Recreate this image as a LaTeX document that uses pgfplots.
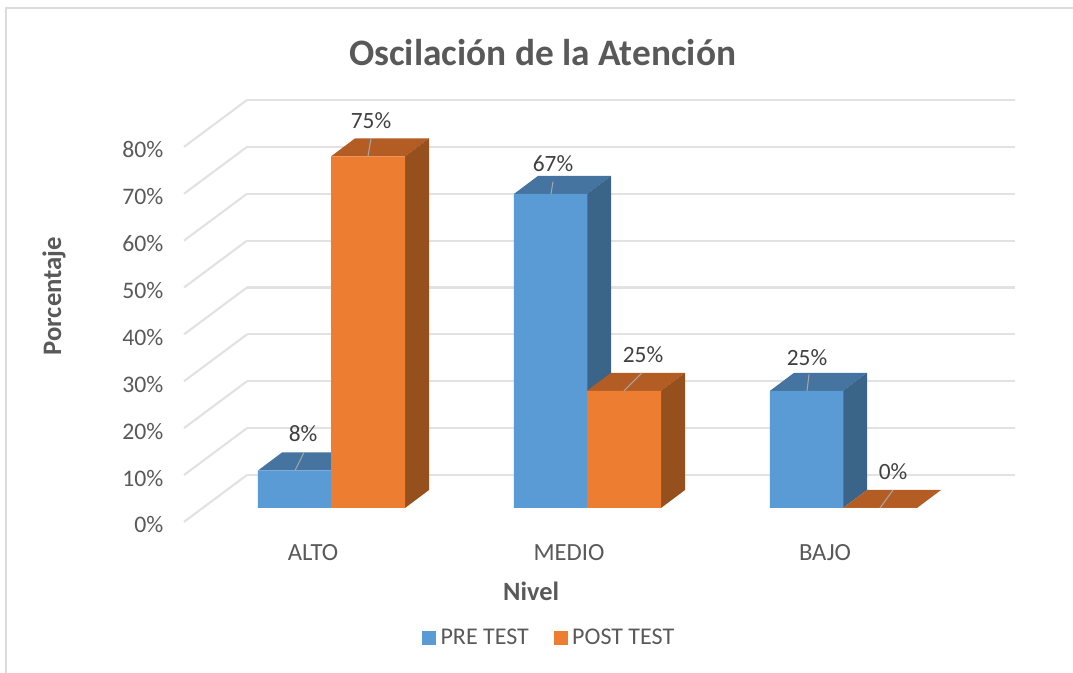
\documentclass[border=0pt]{standalone}
\usepackage{fontspec}
\setmainfont{Carlito}
\usepackage{pgfplots}
\pgfplotsset{compat=1.18}
\pgfplotsset{/pgf/number format/assume math mode=true}
\definecolor{txt}{HTML}{595959}
\definecolor{lab}{HTML}{404040}
\definecolor{gridc}{HTML}{E2E2E2}
\definecolor{frame}{HTML}{DCDCDC}
\definecolor{pre}{HTML}{5B9BD5}
\definecolor{pretop}{HTML}{44749F}
\definecolor{preside}{HTML}{3A6488}
\definecolor{post}{HTML}{ED7D31}
\definecolor{posttop}{HTML}{B35D24}
\definecolor{postside}{HTML}{96501E}
\begin{document}
\begin{tikzpicture}
  % canvas is 1073x673 px, 1 px = 0.75 pt
  \path[use as bounding box] (0pt,0pt) rectangle (804.75pt,504.75pt);
  \draw[frame, line width=1.5pt] (4.5pt,0pt) -- (4.5pt,498.75pt) -- (804.75pt,498.75pt);

  % back wall: gridlines and value labels
  \begin{axis}[
      at={(185.25pt,148.5pt)}, anchor=south west,
      scale only axis, width=576pt, height=281.25pt,
      xmin=247, xmax=1015, ymin=0, ymax=80,
      clip=false,
      axis line style={draw=none},
      ytick={0,10,...,80}, xtick=\empty,
      yticklabel={\pgfmathprintnumber{\tick}\%},
      yticklabel style={anchor=east, xshift=-59.25pt, yshift=-37.5pt, font=\fontsize{17.8}{20}\selectfont, text=txt},
      major tick length=0pt,
      ymajorgrids, grid style={gridc, line width=1.6pt},
      ylabel={Porcentaje},
      ylabel style={at={(rel axis cs:-0.2513,0.477)}, anchor=center, font=\bfseries\fontsize{20}{22}\selectfont, text=txt},
    ]
    % floor lines running forward from the wall
    \addplot[gridc, line width=1.6pt] coordinates {(184,-10) (247,0)};
    \addplot[gridc, line width=1.6pt] coordinates {(184,0) (247,10)};
    \addplot[gridc, line width=1.6pt] coordinates {(184,10) (247,20)};
    \addplot[gridc, line width=1.6pt] coordinates {(184,20) (247,30)};
    \addplot[gridc, line width=1.6pt] coordinates {(184,30) (247,40)};
    \addplot[gridc, line width=1.6pt] coordinates {(184,40) (247,50)};
    \addplot[gridc, line width=1.6pt] coordinates {(184,50) (247,60)};
    \addplot[gridc, line width=1.6pt] coordinates {(184,60) (247,70)};
    \addplot[gridc, line width=1.6pt] coordinates {(184,70) (247,80)};
  \end{axis}

  % bars, x in px, y in percent
  \begin{axis}[
      at={(185.25pt,123.75pt)}, anchor=south west,
      scale only axis, width=576pt, height=281.25pt,
      xmin=247, xmax=1015, ymin=0, ymax=80,
      clip=false,
      axis line style={draw=none},
      xtick={313,569,825}, xticklabels={ALTO,MEDIO,BAJO},
      xticklabel style={anchor=center, yshift=-33.75pt, font=\fontsize{18.5}{20}\selectfont, text=txt},
      ytick=\empty, major tick length=0pt,
      title={Oscilación de la Atención},
      title style={at={(rel axis cs:0.385,1.194)}, anchor=center, font=\bfseries\fontsize{28}{30}\selectfont, text=txt},
      xlabel={Nivel},
      xlabel style={at={(rel axis cs:0.37,-0.221)}, anchor=center, font=\bfseries\fontsize{19.8}{22}\selectfont, text=txt},
      legend style={at={(rel axis cs:0.392,-0.3467)}, anchor=center, draw=none, fill=none,
        legend columns=2, font=\fontsize{18}{20}\selectfont, text=txt,
        /tikz/every even column/.style={column sep=14.5pt}},
      legend image code/.code={\fill[#1] (2.2pt,-5.25pt) rectangle (12.7pt,5.25pt); \path (0pt,0pt) (14pt,0pt);},
    ]
    % PRE TEST
    \addplot[fill=pretop, draw=none, forget plot] coordinates {(258,8) (331,8) (355,11.84) (282,11.84)} -- cycle;
    \addplot[fill=preside, draw=none, forget plot] coordinates {(331,0) (331,8) (355,11.84) (355,3.84)} -- cycle;
    \addplot[fill=pretop, draw=none, forget plot] coordinates {(514,67) (587,67) (611,70.84) (538,70.84)} -- cycle;
    \addplot[fill=preside, draw=none, forget plot] coordinates {(587,0) (587,67) (611,70.84) (611,3.84)} -- cycle;
    \addplot[fill=pretop, draw=none, forget plot] coordinates {(770,25) (843,25) (867,28.84) (794,28.84)} -- cycle;
    \addplot[fill=preside, draw=none, forget plot] coordinates {(843,0) (843,25) (867,28.84) (867,3.84)} -- cycle;
    \addplot[ybar, bar width=73.5, bar shift=0pt, fill=pre, draw=none]
      coordinates {(294.5,8) (550.5,67) (806.5,25)};
    \addlegendentry{PRE TEST}
    % POST TEST
    \addplot[fill=posttop, draw=none, forget plot] coordinates {(331,75) (405,75) (429,78.84) (355,78.84)} -- cycle;
    \addplot[fill=postside, draw=none, forget plot] coordinates {(405,0) (405,75) (429,78.84) (429,3.84)} -- cycle;
    \addplot[fill=posttop, draw=none, forget plot] coordinates {(587,25) (661,25) (685,28.84) (611,28.84)} -- cycle;
    \addplot[fill=postside, draw=none, forget plot] coordinates {(661,0) (661,25) (685,28.84) (685,3.84)} -- cycle;
    \addplot[fill=posttop, draw=none, forget plot] coordinates {(843,0) (917,0) (941,3.84) (867,3.84)} -- cycle;
    \addplot[ybar, bar width=74, bar shift=0pt, fill=post, draw=none]
      coordinates {(368,75) (624,25) (880,0)};
    \addlegendentry{POST TEST}
    % leader lines
    \addplot[gray!70, line width=0.8pt, forget plot] coordinates {(295,8) (304,11.84)};
    \addplot[gray!70, line width=0.8pt, forget plot] coordinates {(368,75) (371,78.84)};
    \addplot[gray!70, line width=0.8pt, forget plot] coordinates {(551,67) (553,69.6)};
    \addplot[gray!70, line width=0.8pt, forget plot] coordinates {(624,25) (642,28.84)};
    \addplot[gray!70, line width=0.8pt, forget plot] coordinates {(807,25) (809,28.5)};
    \addplot[gray!70, line width=0.8pt, forget plot] coordinates {(880,0) (893,3.84)};
    % data labels, dy is the height above the bar top in pt
    \addplot[draw=none, mark=none, forget plot,
        visualization depends on={\thisrow{dy}\as\labdy},
        nodes near coords={\pgfmathprintnumber{\pgfplotspointmeta}\%},
        every node near coord/.append style={anchor=center, yshift=\labdy pt,
          font=\fontsize{17.5}{20}\selectfont, text=lab}]
      table {
        x y dy
        303 8 27.4
        371 75 27
        553 67 22.5
        643 25 27
        807 25 24.7
        893 0 27
      };
  \end{axis}
\end{tikzpicture}
\end{document}
